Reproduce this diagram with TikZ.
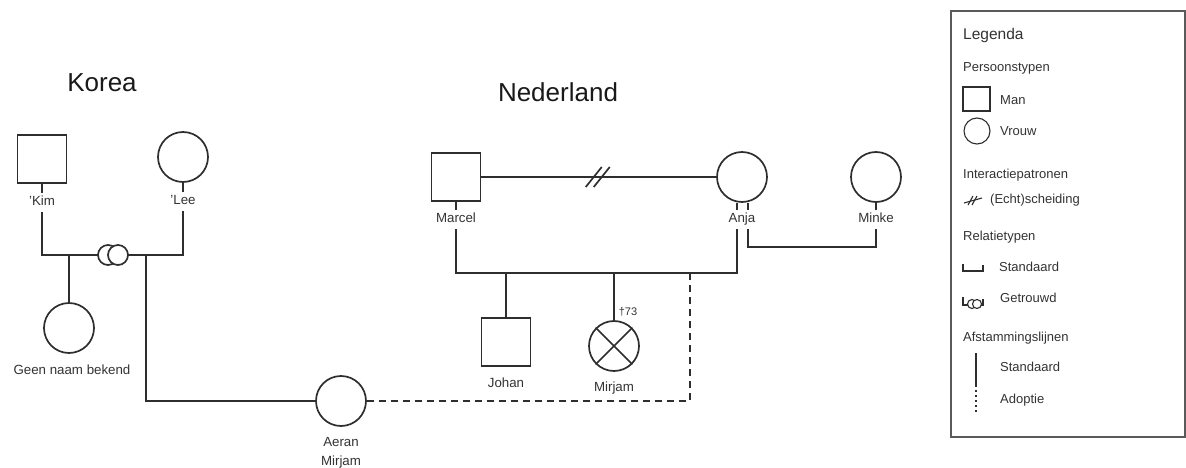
\documentclass[tikz,border=0pt]{standalone}
\usepackage{fontspec}
\setmainfont{Liberation Sans}
\definecolor{lc}{HTML}{2E2E2E}
\definecolor{tc}{HTML}{333333}
\definecolor{bc}{HTML}{5A5A5A}
\begin{document}
\begin{tikzpicture}[x=1pt,y=-1pt,
  rel/.style={draw=lc,line width=1.7pt},
  adopt/.style={draw=lc,line width=1.7pt,dash pattern=on 7pt off 5pt},
  man/.style={draw=lc,line width=1.7pt,fill=white,rectangle,minimum width=49pt,minimum height=48pt,inner sep=0pt},
  woman/.style={draw=lc,line width=1.7pt,fill=white,circle,minimum size=50pt,inner sep=0pt},
  ring/.style={draw=lc,line width=1.7pt,fill=white,circle,minimum size=20pt,inner sep=0pt},
  lbl/.style={font=\fontsize{13.3}{15}\selectfont,text=tc,fill=white,inner xsep=1pt,inner ysep=3pt,text height=10pt,text depth=3pt},
  ttl/.style={font=\fontsize{26}{30}\selectfont,text=black!90},
  lg/.style={font=\fontsize{13}{15}\selectfont,text=tc,anchor=west,inner sep=0pt},
  lgs/.style={draw=lc,line width=1.1pt}]
\useasboundingbox (0,0) rectangle (1186,468);
\fill[white] (0,0) rectangle (1186,468);

% titles
\node[ttl] (korea) at (102,83) {Korea};
\node[ttl] (nl) at (558,92) {Nederland};

% persons
\node[man] (kim) at (42,159) {};
\node[woman] (lee) at (183,157) {};
\node[woman] (geen) at (69,328) {};
\node[woman] (aeran) at (341,401) {};
\node[man] (marcel) at (456,177) {};
\node[woman] (anja) at (742,177) {};
\node[woman] (minke) at (876,177) {};
\node[man] (johan) at (506,342) {};
\node[woman] (mirjam) at (614,346) {};
\draw[rel] (mirjam.45) -- (mirjam.225);
\draw[rel] (mirjam.135) -- (mirjam.315);

% Korea relation
\coordinate (kl) at (42,255);
\coordinate (kc2) at (146,255);
\draw[rel] (kim.south) -- (kl) -- (kl -| lee.south) -- (lee.south);
\node[ring] (r1) at (108,255) {};
\node[ring] (r2) at (118,255) {};
\draw[rel] (geen.north |- kl) -- (geen.north);
\draw[rel] (kc2) |- (aeran.west);

% Nederland relations
\coordinate (m1) at (456,273);
\coordinate (a1) at (737,273);
\coordinate (a2) at (748,247);
\coordinate (ad) at (690,273);
\draw[rel] (marcel.east) -- coordinate (dv) (anja.west);
\draw[rel] ([xshift=-13pt,yshift=-10pt]dv) -- ([xshift=3pt,yshift=10pt]dv);
\draw[rel] ([xshift=-5pt,yshift=-10pt]dv) -- ([xshift=11pt,yshift=10pt]dv);
\draw[rel] (marcel.south) -- (m1) -- (a1) -- (a1 |- anja.south);
\draw[rel] (a2 |- anja.south) -- (a2) -| (minke.south);
\draw[rel] (johan.north |- m1) -- (johan.north);
\draw[rel] (mirjam.north |- m1) -- (mirjam.north);
\draw[adopt] (aeran.east) -| (ad);

% labels
\node[lbl] (lkim) at (42,202) {'Kim};
\node[lbl] (llee) at (183,201) {'Lee};
\node[lbl] (lmarcel) at (456,219) {Marcel};
\node[lbl] (lanja) at (742,219) {Anja};
\node[lbl] (lminke) at (876,219) {Minke};
\node[lbl,fill=none] (lgeen) at (72,371) {Geen naam bekend};
\node[lbl,fill=none] (ljohan) at (506,384) {Johan};
\node[lbl,fill=none] (lmirjam) at (614,388) {Mirjam};
\node[lbl,fill=none] (laeran) at (341,443) {Aeran};
\node[lbl,fill=none] (laeran2) at (341,462) {Mirjam};
\node[font=\fontsize{11}{13}\selectfont,text=tc,inner sep=0pt] (ldeath) at (628,312) {†73};

% legend
\draw[draw=bc,line width=1.6pt] (951,11) rectangle (1185,437);
\node[lg,font=\fontsize{15.5}{18}\selectfont] (lgt) at (963,35) {Legenda};
\node[lg] (lg1) at (963,68) {Persoonstypen};
\draw[lgs] (963,87) rectangle (990,111);
\node[lg] (lgman) at (1000,100) {Man};
\draw[lgs] (977,131) circle[radius=13];
\node[lg] (lgvr) at (1000,131) {Vrouw};
\node[lg] (lg2) at (963,175) {Interactiepatronen};
\draw[lgs] (964,203) -- (982,198);
\draw[lgs] (968,205) -- (973,196);
\draw[lgs] (972,205) -- (977,196);
\node[lg] (lgsch) at (990,200) {(Echt)scheiding};
\node[lg] (lg3) at (963,237) {Relatietypen};
\draw[lgs] (963,264) -- (963,271) -- (983,271) -- (983,265);
\node[lg] (lgst1) at (999,267) {Standaard};
\draw[lgs] (963,297) -- (963,305) -- (983,305) -- (983,299);
\draw[lgs,fill=white] (972,304) circle[radius=4.5];
\draw[lgs,fill=white] (977,304) circle[radius=4.5];
\node[lg] (lggt) at (1000,298) {Getrouwd};
\node[lg] (lg4) at (963,338) {Afstammingslijnen};
\draw[lgs] (976,353) -- (976,387);
\draw[lgs,line width=1.3pt,dash pattern=on 1.5pt off 3.5pt] (976,390) -- (976,413);
\node[lg] (lgst2) at (1000,367) {Standaard};
\node[lg] (lgad) at (1000,400) {Adoptie};
\end{tikzpicture}
\end{document}
